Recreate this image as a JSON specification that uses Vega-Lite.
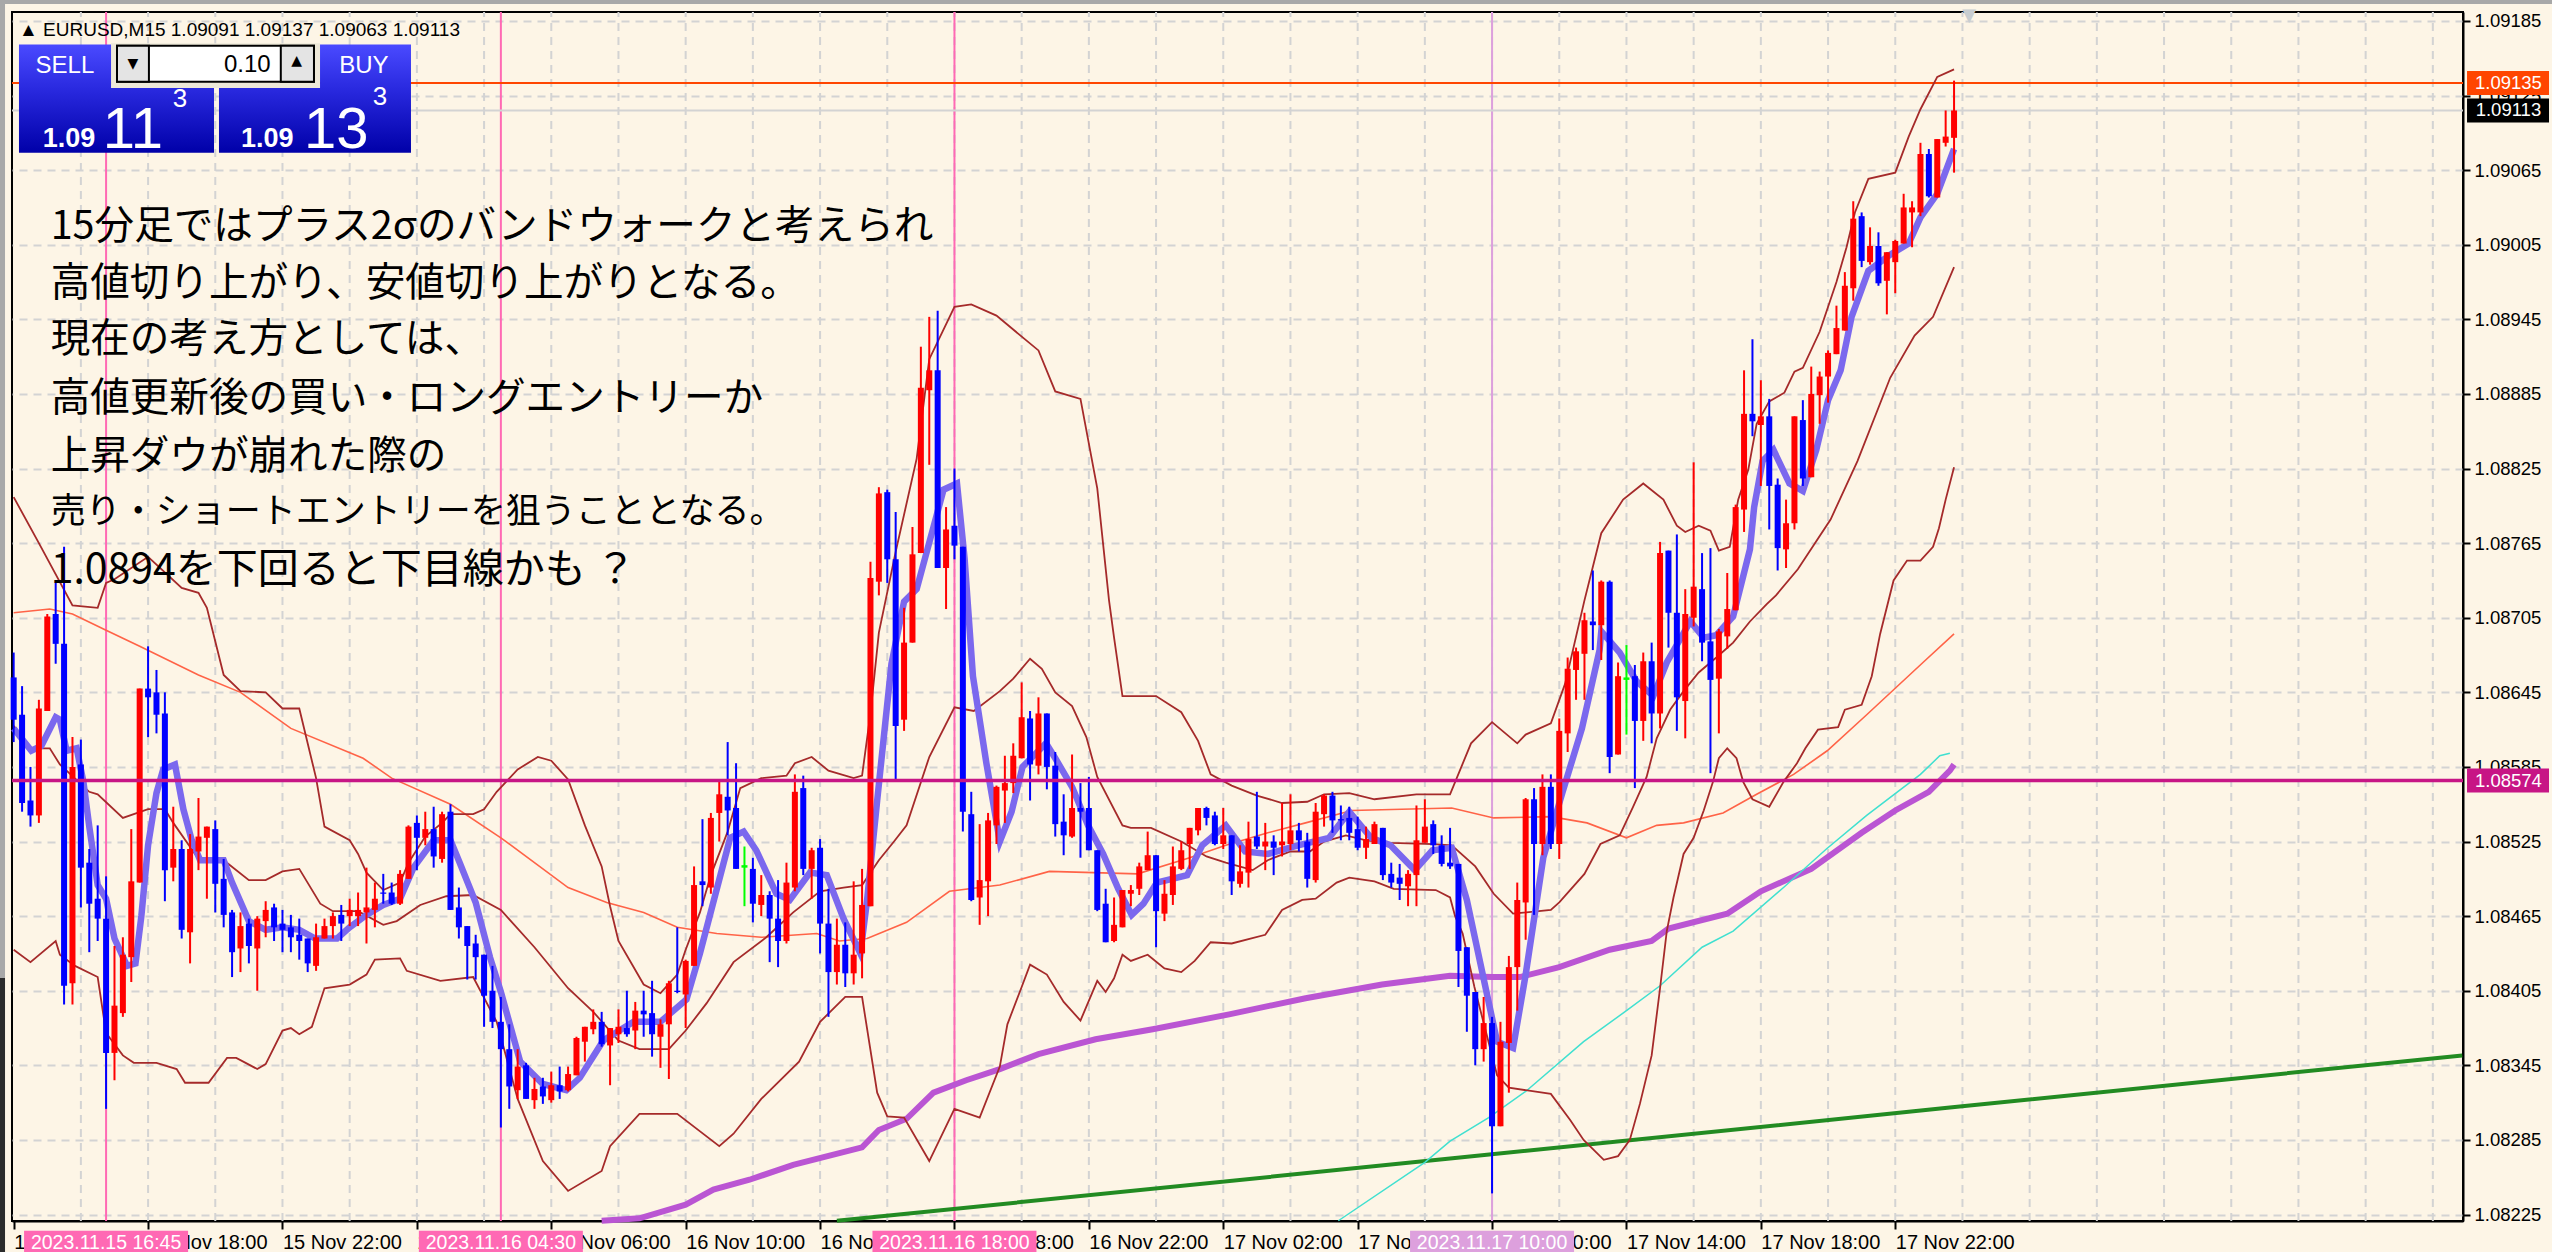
{"$schema":"https://vega.github.io/schema/vega-lite/v6.json","width":2451,"height":1209,"autosize":"none","padding":{"left":12,"top":12,"right":89,"bottom":31},"background":"#FDF5E6","view":{"fill":"#FDF5E6","stroke":"#000000","strokeWidth":2},"resolve":{"axis":{"x":"independent","y":"independent"}},
"datasets":{
"gridx":[{"i":8},{"i":16},{"i":24},{"i":32},{"i":40},{"i":48},{"i":56},{"i":64},{"i":72},{"i":80},{"i":88},{"i":96},{"i":104},{"i":112},{"i":120},{"i":128},{"i":136},{"i":144},{"i":152},{"i":160},{"i":168},{"i":176},{"i":184},{"i":192},{"i":200},{"i":208},{"i":216},{"i":224},{"i":232},{"i":240},{"i":248},{"i":256},{"i":264},{"i":272},{"i":280},{"i":288}],
"events":[{"i":11,"t":"2023.11.15 16:45"},{"i":58,"t":"2023.11.16 04:30"},{"i":112,"t":"2023.11.16 18:00"},{"i":176,"t":"2023.11.17 10:00"}],
"tags":[{"p":1.09135,"t":"1.09135"},{"p":1.09113,"t":"1.09113"},{"p":1.08574,"t":"1.08574"}],
"notes":[{"i":4.4,"p":1.0901,"t":"15分足ではプラス2σのバンドウォークと考えられ"},{"i":4.4,"p":1.08964,"t":"高値切り上がり、安値切り上がりとなる。"},{"i":4.4,"p":1.08919,"t":"現在の考え方としては、"},{"i":4.4,"p":1.08871,"t":"高値更新後の買い・ロングエントリーか"},{"i":4.4,"p":1.08825,"t":"上昇ダウが崩れた際の"}],
"noteNarrow":[{"i":4.4,"p":1.08781,"t":"売り・ショートエントリーを狙うこととなる。"}],
"noteWide":[{"i":4.4,"p":1.08733,"t":"1.0894を下回ると下目線かも ？"}],
"green":[{"i":98,"p":1.0822},{"i":171,"p":1.0827},{"i":230.5,"p":1.08311},{"i":291.5,"p":1.08353}],
"purple":[{"i":70,"p":1.0822},{"i":74.5,"p":1.08222},{"i":80,"p":1.08233},{"i":83.3,"p":1.08245},{"i":87.6,"p":1.08253},{"i":92.8,"p":1.08265},{"i":101,"p":1.08279},{"i":103,"p":1.08293},{"i":106.3,"p":1.08302},{"i":109.5,"p":1.08323},{"i":113.4,"p":1.08333},{"i":117.4,"p":1.08342},{"i":122,"p":1.08354},{"i":128.8,"p":1.08366},{"i":135.6,"p":1.08374},{"i":144.7,"p":1.08386},{"i":153.8,"p":1.08399},{"i":162.9,"p":1.0841},{"i":171,"p":1.08417},{"i":176,"p":1.08416},{"i":179.3,"p":1.08416},{"i":184,"p":1.08424},{"i":190,"p":1.08438},{"i":195,"p":1.08445},{"i":197,"p":1.08455},{"i":204,"p":1.08467},{"i":208,"p":1.08485},{"i":214,"p":1.08503},{"i":220,"p":1.08532},{"i":224,"p":1.0855},{"i":228,"p":1.08565},{"i":230.5,"p":1.08582},{"i":231,"p":1.08587}],
"cyan":[{"i":157.7,"p":1.0822},{"i":168,"p":1.08267},{"i":171,"p":1.08284},{"i":175.6,"p":1.08303},{"i":180,"p":1.08324},{"i":186.9,"p":1.08364},{"i":192,"p":1.08389},{"i":196,"p":1.08409},{"i":201,"p":1.0844},{"i":204.7,"p":1.08453},{"i":210.7,"p":1.08488},{"i":215.8,"p":1.08519},{"i":220.6,"p":1.08546},{"i":227,"p":1.08579},{"i":229.3,"p":1.08594},{"i":230.5,"p":1.08596}],
"tomato":[{"i":0,"p":1.08709},{"i":4.3,"p":1.08712},{"i":7,"p":1.08708},{"i":11,"p":1.08695},{"i":15,"p":1.08682},{"i":22,"p":1.08659},{"i":27,"p":1.08645},{"i":33,"p":1.08616},{"i":41.6,"p":1.08592},{"i":45,"p":1.08576},{"i":52,"p":1.08555},{"i":58,"p":1.08528},{"i":62.6,"p":1.08505},{"i":66,"p":1.08488},{"i":70.6,"p":1.08476},{"i":75,"p":1.08468},{"i":79,"p":1.08456},{"i":83.7,"p":1.08451},{"i":89,"p":1.08448},{"i":95.6,"p":1.08451},{"i":98.3,"p":1.08445},{"i":101.6,"p":1.08447},{"i":106.3,"p":1.0846},{"i":111.4,"p":1.08485},{"i":117.4,"p":1.0849},{"i":123.3,"p":1.08501},{"i":133.8,"p":1.08499},{"i":140,"p":1.08512},{"i":144.3,"p":1.08522},{"i":149.3,"p":1.08532},{"i":153.8,"p":1.0854},{"i":159.3,"p":1.0855},{"i":171.2,"p":1.08552},{"i":176.2,"p":1.08544},{"i":183,"p":1.08545},{"i":187.3,"p":1.0854},{"i":192,"p":1.08528},{"i":195.6,"p":1.08538},{"i":198.8,"p":1.0854},{"i":203.5,"p":1.08548},{"i":207.5,"p":1.08563},{"i":211.9,"p":1.08579},{"i":215.9,"p":1.08598},{"i":220.6,"p":1.08627},{"i":227.3,"p":1.08669},{"i":231,"p":1.08692}],
"bbU":[{"i":0,"p":1.08802},{"i":3,"p":1.08765},{"i":7,"p":1.08715},{"i":10,"p":1.08713},{"i":11,"p":1.08733},{"i":12,"p":1.08736},{"i":16,"p":1.08754},{"i":20,"p":1.08729},{"i":22,"p":1.08725},{"i":23,"p":1.08713},{"i":25,"p":1.08659},{"i":27,"p":1.08646},{"i":30,"p":1.08645},{"i":32,"p":1.08632},{"i":34,"p":1.08632},{"i":36,"p":1.08576},{"i":37,"p":1.08537},{"i":40,"p":1.08526},{"i":41,"p":1.08515},{"i":42,"p":1.085},{"i":44,"p":1.08486},{"i":46,"p":1.08492},{"i":47,"p":1.08508},{"i":49,"p":1.08529},{"i":51,"p":1.0854},{"i":52,"p":1.08547},{"i":54.7,"p":1.08547},{"i":56,"p":1.08551},{"i":57.5,"p":1.08565},{"i":60,"p":1.08583},{"i":62.4,"p":1.08593},{"i":64,"p":1.0859},{"i":66,"p":1.08575},{"i":68,"p":1.08538},{"i":70,"p":1.08505},{"i":71,"p":1.08473},{"i":72,"p":1.08445},{"i":75,"p":1.0841},{"i":77,"p":1.08403},{"i":79,"p":1.08418},{"i":80,"p":1.08438},{"i":81.7,"p":1.08468},{"i":83,"p":1.08498},{"i":85,"p":1.08533},{"i":86.5,"p":1.08568},{"i":89,"p":1.08576},{"i":92,"p":1.08578},{"i":93,"p":1.08588},{"i":95,"p":1.08593},{"i":97,"p":1.08582},{"i":100,"p":1.08576},{"i":101,"p":1.08578},{"i":102,"p":1.08628},{"i":103,"p":1.08693},{"i":105,"p":1.08758},{"i":107.5,"p":1.08833},{"i":109,"p":1.08913},{"i":112,"p":1.08955},{"i":114,"p":1.08957},{"i":117,"p":1.08948},{"i":122,"p":1.0892},{"i":124,"p":1.08887},{"i":127,"p":1.08881},{"i":129,"p":1.08809},{"i":130.4,"p":1.08719},{"i":131,"p":1.08689},{"i":132,"p":1.08642},{"i":136,"p":1.08642},{"i":139,"p":1.08629},{"i":141,"p":1.08606},{"i":142.5,"p":1.08579},{"i":145,"p":1.0857},{"i":148,"p":1.08562},{"i":151,"p":1.08556},{"i":154,"p":1.08557},{"i":156,"p":1.08563},{"i":159,"p":1.08564},{"i":162,"p":1.08559},{"i":167,"p":1.08563},{"i":171,"p":1.08563},{"i":173.5,"p":1.08604},{"i":176,"p":1.08621},{"i":179,"p":1.08604},{"i":180,"p":1.08611},{"i":183,"p":1.0862},{"i":184.7,"p":1.08652},{"i":187,"p":1.08719},{"i":189,"p":1.08773},{"i":191.6,"p":1.088},{"i":194,"p":1.08813},{"i":196.4,"p":1.088},{"i":198,"p":1.08779},{"i":199,"p":1.08774},{"i":200.6,"p":1.08779},{"i":202,"p":1.08775},{"i":203,"p":1.08759},{"i":204.3,"p":1.08762},{"i":205.3,"p":1.088},{"i":206.5,"p":1.08824},{"i":207.5,"p":1.08861},{"i":209,"p":1.08879},{"i":210.8,"p":1.08886},{"i":212,"p":1.08903},{"i":213,"p":1.08906},{"i":215,"p":1.08935},{"i":217,"p":1.08975},{"i":218.2,"p":1.09003},{"i":219.2,"p":1.09031},{"i":220.8,"p":1.09058},{"i":224,"p":1.09063},{"i":225.6,"p":1.09092},{"i":227,"p":1.09114},{"i":229,"p":1.0914},{"i":231,"p":1.09146}],
"bbM":[{"i":0,"p":1.08618},{"i":2,"p":1.086},{"i":4.3,"p":1.086},{"i":5.5,"p":1.08587},{"i":9,"p":1.08565},{"i":10,"p":1.08563},{"i":13,"p":1.08544},{"i":16,"p":1.08551},{"i":18,"p":1.08551},{"i":19,"p":1.0854},{"i":22,"p":1.08511},{"i":25,"p":1.0851},{"i":28,"p":1.08494},{"i":30,"p":1.08494},{"i":32,"p":1.08501},{"i":34,"p":1.08503},{"i":36.5,"p":1.08475},{"i":38,"p":1.08469},{"i":41,"p":1.08469},{"i":44,"p":1.08458},{"i":45.6,"p":1.08461},{"i":48.4,"p":1.08474},{"i":51.5,"p":1.08481},{"i":54.7,"p":1.08482},{"i":58,"p":1.0847},{"i":62,"p":1.0844},{"i":66,"p":1.08407},{"i":69,"p":1.08388},{"i":72,"p":1.08365},{"i":74.5,"p":1.08358},{"i":78,"p":1.08358},{"i":80,"p":1.08373},{"i":82.5,"p":1.08395},{"i":85.7,"p":1.08428},{"i":89.6,"p":1.08448},{"i":92.8,"p":1.08468},{"i":96,"p":1.08485},{"i":98.8,"p":1.08488},{"i":101,"p":1.0849},{"i":103,"p":1.0851},{"i":104.8,"p":1.08525},{"i":106.3,"p":1.08538},{"i":109,"p":1.08593},{"i":112,"p":1.08633},{"i":114.3,"p":1.0863},{"i":117.4,"p":1.08646},{"i":119,"p":1.08656},{"i":121,"p":1.08672},{"i":122.4,"p":1.08664},{"i":124,"p":1.08645},{"i":126,"p":1.08634},{"i":127.7,"p":1.08609},{"i":129,"p":1.08577},{"i":132,"p":1.08538},{"i":133,"p":1.08536},{"i":135.4,"p":1.08536},{"i":139,"p":1.08525},{"i":142,"p":1.08513},{"i":144.3,"p":1.08508},{"i":147.5,"p":1.08502},{"i":149.3,"p":1.0851},{"i":152,"p":1.08517},{"i":154.3,"p":1.08517},{"i":156,"p":1.08525},{"i":158.6,"p":1.0853},{"i":161,"p":1.08526},{"i":164,"p":1.08524},{"i":169,"p":1.08523},{"i":171.2,"p":1.08522},{"i":174,"p":1.08505},{"i":176.2,"p":1.08483},{"i":178.5,"p":1.08467},{"i":183,"p":1.0847},{"i":184,"p":1.08476},{"i":187,"p":1.08499},{"i":188.9,"p":1.08523},{"i":191.2,"p":1.0853},{"i":192.8,"p":1.08553},{"i":194.4,"p":1.08577},{"i":195.6,"p":1.08608},{"i":197.2,"p":1.08631},{"i":198.8,"p":1.08646},{"i":200.6,"p":1.08661},{"i":202.7,"p":1.08673},{"i":204.7,"p":1.08685},{"i":206.7,"p":1.08702},{"i":208.7,"p":1.08716},{"i":209.8,"p":1.08723},{"i":212.4,"p":1.08744},{"i":216.3,"p":1.08784},{"i":219.5,"p":1.08831},{"i":223.4,"p":1.08898},{"i":226.3,"p":1.08932},{"i":228.5,"p":1.08947},{"i":231,"p":1.08987}],
"bbL":[{"i":0,"p":1.08438},{"i":2,"p":1.08428},{"i":5,"p":1.08445},{"i":5.5,"p":1.08434},{"i":7.3,"p":1.08425},{"i":10,"p":1.08416},{"i":11,"p":1.08371},{"i":13,"p":1.08353},{"i":14.3,"p":1.08347},{"i":17,"p":1.08347},{"i":19.4,"p":1.08342},{"i":20.4,"p":1.08331},{"i":23.2,"p":1.08331},{"i":25.4,"p":1.08351},{"i":26.5,"p":1.08351},{"i":29,"p":1.08342},{"i":30,"p":1.08346},{"i":32,"p":1.08373},{"i":33,"p":1.08375},{"i":34,"p":1.0837},{"i":35.5,"p":1.08376},{"i":37,"p":1.08407},{"i":40,"p":1.0841},{"i":42,"p":1.08418},{"i":43,"p":1.0843},{"i":46,"p":1.08431},{"i":46.8,"p":1.08421},{"i":50.8,"p":1.08413},{"i":54.7,"p":1.08416},{"i":57.5,"p":1.0838},{"i":60,"p":1.08318},{"i":63,"p":1.08268},{"i":66,"p":1.08244},{"i":70,"p":1.0826},{"i":71,"p":1.0828},{"i":74.5,"p":1.08306},{"i":79,"p":1.08306},{"i":84,"p":1.0828},{"i":85.7,"p":1.0829},{"i":89,"p":1.08318},{"i":93.5,"p":1.08348},{"i":96,"p":1.0838},{"i":99,"p":1.084},{"i":101,"p":1.084},{"i":102.8,"p":1.08323},{"i":104,"p":1.08304},{"i":106,"p":1.08303},{"i":109,"p":1.08268},{"i":112,"p":1.0831},{"i":115,"p":1.08303},{"i":117.4,"p":1.08344},{"i":118.3,"p":1.08378},{"i":120,"p":1.08408},{"i":121,"p":1.08426},{"i":123,"p":1.08418},{"i":125,"p":1.08396},{"i":127,"p":1.08381},{"i":129,"p":1.08413},{"i":130,"p":1.08404},{"i":131,"p":1.08415},{"i":132,"p":1.08434},{"i":133,"p":1.08429},{"i":135,"p":1.08434},{"i":137,"p":1.08423},{"i":139,"p":1.0842},{"i":140.6,"p":1.08429},{"i":142.5,"p":1.08444},{"i":145,"p":1.08443},{"i":149,"p":1.0845},{"i":151,"p":1.0847},{"i":153.4,"p":1.08478},{"i":155,"p":1.08479},{"i":157.5,"p":1.08492},{"i":159,"p":1.08496},{"i":162,"p":1.08493},{"i":164.3,"p":1.08487},{"i":169.3,"p":1.08486},{"i":171,"p":1.0848},{"i":171.6,"p":1.08465},{"i":172.5,"p":1.08451},{"i":173.9,"p":1.08408},{"i":176.6,"p":1.08337},{"i":178,"p":1.08327},{"i":183,"p":1.08322},{"i":185.3,"p":1.08301},{"i":186.9,"p":1.08285},{"i":189.3,"p":1.08269},{"i":191,"p":1.08272},{"i":192.4,"p":1.08285},{"i":193.6,"p":1.08314},{"i":195,"p":1.08353},{"i":196,"p":1.08407},{"i":196.8,"p":1.08453},{"i":197.6,"p":1.0848},{"i":198.8,"p":1.08515},{"i":200,"p":1.08528},{"i":201.2,"p":1.0855},{"i":202.3,"p":1.08573},{"i":203,"p":1.08592},{"i":204,"p":1.086},{"i":205.1,"p":1.08592},{"i":205.9,"p":1.08573},{"i":207,"p":1.08559},{"i":209,"p":1.08553},{"i":210.7,"p":1.08573},{"i":212.3,"p":1.08588},{"i":213.3,"p":1.086},{"i":214.8,"p":1.08615},{"i":217.2,"p":1.08617},{"i":218,"p":1.08631},{"i":220,"p":1.08635},{"i":221.2,"p":1.08658},{"i":222.2,"p":1.08692},{"i":223.8,"p":1.08735},{"i":225.4,"p":1.08751},{"i":227,"p":1.08751},{"i":228.5,"p":1.08762},{"i":229.2,"p":1.08777},{"i":230,"p":1.088},{"i":231,"p":1.08826}],
"ma":[{"i":0,"p":1.08616},{"i":2.1,"p":1.08598},{"i":3.3,"p":1.08602},{"i":5,"p":1.08625},{"i":5.5,"p":1.08623},{"i":6.3,"p":1.08598},{"i":7.5,"p":1.086},{"i":8.3,"p":1.08573},{"i":9,"p":1.08537},{"i":10,"p":1.0849},{"i":11,"p":1.08479},{"i":12,"p":1.08447},{"i":13.5,"p":1.08425},{"i":14.5,"p":1.08427},{"i":15.2,"p":1.08465},{"i":16,"p":1.08522},{"i":17,"p":1.08564},{"i":17.8,"p":1.08583},{"i":19.2,"p":1.08587},{"i":20.2,"p":1.08551},{"i":21.2,"p":1.08526},{"i":22.2,"p":1.0851},{"i":25,"p":1.0851},{"i":26,"p":1.08492},{"i":28,"p":1.08461},{"i":30,"p":1.08454},{"i":32,"p":1.08456},{"i":34,"p":1.08454},{"i":35.9,"p":1.08447},{"i":38.5,"p":1.08447},{"i":40,"p":1.08456},{"i":42,"p":1.08466},{"i":44,"p":1.08474},{"i":46,"p":1.08479},{"i":47.6,"p":1.08504},{"i":50,"p":1.08526},{"i":52,"p":1.08526},{"i":53.1,"p":1.08508},{"i":55,"p":1.08476},{"i":56.7,"p":1.08432},{"i":58,"p":1.08404},{"i":60.3,"p":1.08348},{"i":63,"p":1.0833},{"i":65.8,"p":1.08325},{"i":67.4,"p":1.08335},{"i":70.2,"p":1.08365},{"i":73.8,"p":1.0838},{"i":77,"p":1.0838},{"i":80.1,"p":1.08398},{"i":81.7,"p":1.08435},{"i":85.3,"p":1.08528},{"i":86.9,"p":1.08533},{"i":88.4,"p":1.08518},{"i":90.8,"p":1.08483},{"i":92.4,"p":1.08478},{"i":94.8,"p":1.085},{"i":96.8,"p":1.08498},{"i":98.8,"p":1.08463},{"i":100.8,"p":1.08435},{"i":101.6,"p":1.08478},{"i":102.8,"p":1.08558},{"i":104.5,"p":1.08668},{"i":106,"p":1.08718},{"i":107.5,"p":1.08728},{"i":109.5,"p":1.08778},{"i":110.7,"p":1.08808},{"i":112.3,"p":1.08813},{"i":113.2,"p":1.08753},{"i":114.2,"p":1.08658},{"i":115.8,"p":1.08588},{"i":117.4,"p":1.08525},{"i":118.8,"p":1.08549},{"i":120.1,"p":1.08585},{"i":122.9,"p":1.08604},{"i":124,"p":1.08592},{"i":126,"p":1.08569},{"i":127.9,"p":1.08538},{"i":129.7,"p":1.08515},{"i":131.5,"p":1.08487},{"i":133.1,"p":1.08466},{"i":134.5,"p":1.08475},{"i":136.1,"p":1.08492},{"i":139.7,"p":1.08498},{"i":141.5,"p":1.08522},{"i":144.3,"p":1.08538},{"i":146.6,"p":1.08517},{"i":149.3,"p":1.08515},{"i":152.9,"p":1.08522},{"i":156.6,"p":1.08528},{"i":159,"p":1.08549},{"i":161.6,"p":1.08528},{"i":163.9,"p":1.08522},{"i":166.8,"p":1.08502},{"i":168.9,"p":1.08518},{"i":171.2,"p":1.0852},{"i":173,"p":1.08478},{"i":174.8,"p":1.08421},{"i":176.6,"p":1.08364},{"i":178.5,"p":1.08359},{"i":180,"p":1.08418},{"i":182.1,"p":1.08512},{"i":184.4,"p":1.08565},{"i":186.7,"p":1.08616},{"i":188.8,"p":1.08679},{"i":189,"p":1.08694},{"i":191.2,"p":1.08677},{"i":193.2,"p":1.08654},{"i":195.2,"p":1.08642},{"i":196.8,"p":1.08669},{"i":199.6,"p":1.08702},{"i":201.2,"p":1.08689},{"i":202.7,"p":1.08691},{"i":204.7,"p":1.08706},{"i":206.7,"p":1.0876},{"i":207.2,"p":1.08794},{"i":208.2,"p":1.08831},{"i":209.5,"p":1.0884},{"i":211.4,"p":1.08813},{"i":213,"p":1.08807},{"i":214.6,"p":1.0884},{"i":216,"p":1.0888},{"i":217.5,"p":1.08904},{"i":218.8,"p":1.08947},{"i":220.8,"p":1.08984},{"i":223.4,"p":1.08997},{"i":225.6,"p":1.09006},{"i":227,"p":1.09027},{"i":229,"p":1.09046},{"i":231,"p":1.09082}],
"candles":[
{"i":0,"o":1.08657,"h":1.08677,"l":1.08605,"c":1.08623},{"i":1,"o":1.08627,"h":1.0865,"l":1.08549,"c":1.08556},{"i":2,"o":1.08558,"h":1.08585,"l":1.08537,"c":1.08546},{"i":3,"o":1.08546,"h":1.08639,"l":1.0854,"c":1.08632},{"i":4,"o":1.0863,"h":1.08708,"l":1.0863,"c":1.08706},{"i":5,"o":1.08708,"h":1.08733,"l":1.08668,"c":1.08684},{"i":6,"o":1.08684,"h":1.08762,"l":1.08394,"c":1.08409},{"i":7,"o":1.08411,"h":1.08609,"l":1.08394,"c":1.08585},{"i":8,"o":1.08587,"h":1.08607,"l":1.08472,"c":1.08504},{"i":9,"o":1.08508,"h":1.08519,"l":1.08436,"c":1.08475},{"i":10,"o":1.08479,"h":1.08538,"l":1.08445,"c":1.08463},{"i":11,"o":1.08463,"h":1.08497,"l":1.0831,"c":1.08355},{"i":12,"o":1.08355,"h":1.08441,"l":1.08333,"c":1.08393},{"i":13,"o":1.08387,"h":1.08448,"l":1.08384,"c":1.08434},{"i":14,"o":1.08432,"h":1.08535,"l":1.08412,"c":1.08493},{"i":15,"o":1.08492,"h":1.08648,"l":1.08492,"c":1.08648},{"i":16,"o":1.08648,"h":1.08682,"l":1.08609,"c":1.08641},{"i":17,"o":1.08645,"h":1.08663,"l":1.08612,"c":1.08627},{"i":18,"o":1.08628,"h":1.08645,"l":1.08477,"c":1.08502},{"i":19,"o":1.08504,"h":1.08553,"l":1.08493,"c":1.08519},{"i":20,"o":1.08519,"h":1.08526,"l":1.08447,"c":1.08454},{"i":21,"o":1.08452,"h":1.08531,"l":1.08427,"c":1.08519},{"i":22,"o":1.08517,"h":1.0856,"l":1.08502,"c":1.08529},{"i":23,"o":1.08528,"h":1.08537,"l":1.08479,"c":1.08537},{"i":24,"o":1.08535,"h":1.08542,"l":1.08468,"c":1.08491},{"i":25,"o":1.08495,"h":1.08511,"l":1.08456,"c":1.08466},{"i":26,"o":1.08468,"h":1.0847,"l":1.08416,"c":1.08436},{"i":27,"o":1.08439,"h":1.08468,"l":1.0842,"c":1.08457},{"i":28,"o":1.08459,"h":1.08463,"l":1.08427,"c":1.08441},{"i":29,"o":1.08439,"h":1.08465,"l":1.08405,"c":1.08463},{"i":30,"o":1.08461,"h":1.08477,"l":1.08448,"c":1.0847},{"i":31,"o":1.08472,"h":1.08475,"l":1.08445,"c":1.08456},{"i":32,"o":1.08459,"h":1.0847,"l":1.08436,"c":1.08454},{"i":33,"o":1.08456,"h":1.08466,"l":1.08436,"c":1.08448},{"i":34,"o":1.0845,"h":1.08463,"l":1.0843,"c":1.08445},{"i":35,"o":1.08447,"h":1.08447,"l":1.0842,"c":1.08427},{"i":36,"o":1.08425,"h":1.08459,"l":1.08421,"c":1.08448},{"i":37,"o":1.08447,"h":1.08463,"l":1.08447,"c":1.08457},{"i":38,"o":1.08457,"h":1.08468,"l":1.08447,"c":1.08465},{"i":39,"o":1.08466,"h":1.08474,"l":1.08445,"c":1.08459},{"i":40,"o":1.08465,"h":1.08479,"l":1.08457,"c":1.0847},{"i":41,"o":1.08465,"h":1.08484,"l":1.08457,"c":1.0847},{"i":42,"o":1.08468,"h":1.08504,"l":1.08443,"c":1.08472},{"i":43,"o":1.0847,"h":1.08492,"l":1.08456,"c":1.08479},{"i":44,"o":1.08484,"h":1.08499,"l":1.08475,"c":1.08483},{"i":45,"o":1.08484,"h":1.08492,"l":1.08474,"c":1.08475},{"i":46,"o":1.08475,"h":1.08502,"l":1.08474,"c":1.08499},{"i":47,"o":1.08495,"h":1.08538,"l":1.08495,"c":1.08537},{"i":48,"o":1.0854,"h":1.08546,"l":1.08502,"c":1.08528},{"i":49,"o":1.08528,"h":1.08549,"l":1.08522,"c":1.08535},{"i":50,"o":1.08535,"h":1.08553,"l":1.08504,"c":1.08513},{"i":51,"o":1.08511,"h":1.08549,"l":1.08508,"c":1.08547},{"i":52,"o":1.08549,"h":1.08555,"l":1.0847,"c":1.0847},{"i":53,"o":1.08472,"h":1.08488,"l":1.08447,"c":1.08456},{"i":54,"o":1.08457,"h":1.08457,"l":1.08414,"c":1.08441},{"i":55,"o":1.08443,"h":1.0845,"l":1.08414,"c":1.08432},{"i":56,"o":1.08434,"h":1.08434,"l":1.08376,"c":1.08401},{"i":57,"o":1.08405,"h":1.08425,"l":1.08375,"c":1.0838},{"i":58,"o":1.0838,"h":1.084,"l":1.08295,"c":1.08358},{"i":59,"o":1.08358,"h":1.08378,"l":1.0831,"c":1.08328},{"i":60,"o":1.08325,"h":1.08358,"l":1.08318,"c":1.08344},{"i":61,"o":1.08345,"h":1.08347,"l":1.08318,"c":1.08318},{"i":62,"o":1.08317,"h":1.08335,"l":1.0831,"c":1.08326},{"i":63,"o":1.08328,"h":1.08335,"l":1.08314,"c":1.0832},{"i":64,"o":1.08317,"h":1.0834,"l":1.08315,"c":1.08329},{"i":65,"o":1.08329,"h":1.08344,"l":1.08318,"c":1.08324},{"i":66,"o":1.08325,"h":1.08344,"l":1.08324,"c":1.08338},{"i":67,"o":1.08337,"h":1.08368,"l":1.08337,"c":1.08367},{"i":68,"o":1.08364,"h":1.08376,"l":1.08348,"c":1.08376},{"i":69,"o":1.08374,"h":1.0839,"l":1.0837,"c":1.0838},{"i":70,"o":1.0838,"h":1.08388,"l":1.0836,"c":1.08362},{"i":71,"o":1.08361,"h":1.08375,"l":1.08329,"c":1.08375},{"i":72,"o":1.0837,"h":1.0839,"l":1.08363,"c":1.08376},{"i":73,"o":1.08375,"h":1.08405,"l":1.08368,"c":1.0837},{"i":74,"o":1.08373,"h":1.08396,"l":1.08358,"c":1.08389},{"i":75,"o":1.08389,"h":1.08405,"l":1.08368,"c":1.08386},{"i":76,"o":1.08387,"h":1.08413,"l":1.08352,"c":1.0837},{"i":77,"o":1.08368,"h":1.08382,"l":1.08343,"c":1.08378},{"i":78,"o":1.08378,"h":1.08413,"l":1.08334,"c":1.08411},{"i":79,"o":1.08405,"h":1.08456,"l":1.08403,"c":1.08404},{"i":80,"o":1.08402,"h":1.0843,"l":1.08375,"c":1.08429},{"i":81,"o":1.08425,"h":1.08505,"l":1.08425,"c":1.0849},{"i":82,"o":1.08493,"h":1.08543,"l":1.08473,"c":1.0849},{"i":83,"o":1.08488,"h":1.08548,"l":1.08483,"c":1.08544},{"i":84,"o":1.08548,"h":1.08574,"l":1.08525,"c":1.08563},{"i":85,"o":1.08561,"h":1.08605,"l":1.0853,"c":1.0855},{"i":86,"o":1.08552,"h":1.08588,"l":1.08503,"c":1.08503},{"i":87,"t":"f","o":1.08504,"h":1.08521,"l":1.08473,"c":1.08506},{"i":88,"o":1.08503,"h":1.08512,"l":1.0846,"c":1.08475},{"i":89,"o":1.08474,"h":1.08498,"l":1.08465,"c":1.08482},{"i":90,"o":1.08482,"h":1.08485,"l":1.08428,"c":1.08463},{"i":91,"o":1.08463,"h":1.08494,"l":1.08424,"c":1.08445},{"i":92,"o":1.08445,"h":1.08508,"l":1.08443,"c":1.08492},{"i":93,"o":1.08488,"h":1.08579,"l":1.08485,"c":1.08565},{"i":94,"o":1.08568,"h":1.08578,"l":1.08498,"c":1.08503},{"i":95,"o":1.08503,"h":1.0852,"l":1.08479,"c":1.08518},{"i":96,"o":1.0852,"h":1.08527,"l":1.08435,"c":1.08459},{"i":97,"o":1.08459,"h":1.08487,"l":1.08384,"c":1.0842},{"i":98,"o":1.0842,"h":1.08463,"l":1.0841,"c":1.08442},{"i":99,"o":1.08442,"h":1.0846,"l":1.08408,"c":1.08419},{"i":100,"o":1.08419,"h":1.08493,"l":1.0841,"c":1.08434},{"i":101,"o":1.08435,"h":1.08503,"l":1.08415,"c":1.08474},{"i":102,"o":1.08473,"h":1.0875,"l":1.08473,"c":1.08737},{"i":103,"o":1.08734,"h":1.0881,"l":1.08723,"c":1.08805},{"i":104,"o":1.08806,"h":1.08808,"l":1.08733,"c":1.08752},{"i":105,"o":1.08752,"h":1.0879,"l":1.08575,"c":1.08618},{"i":106,"o":1.08623,"h":1.08713,"l":1.08614,"c":1.08685},{"i":107,"o":1.08685,"h":1.08778,"l":1.08685,"c":1.08756},{"i":108,"o":1.08757,"h":1.08923,"l":1.08757,"c":1.0889},{"i":109,"o":1.08888,"h":1.08947,"l":1.08828,"c":1.08904},{"i":110,"o":1.08904,"h":1.08952,"l":1.08745,"c":1.08745},{"i":111,"o":1.08745,"h":1.08794,"l":1.08712,"c":1.08776},{"i":112,"o":1.08779,"h":1.08825,"l":1.08752,"c":1.08763},{"i":113,"o":1.08762,"h":1.08762,"l":1.08533,"c":1.08549},{"i":114,"o":1.08547,"h":1.08565,"l":1.08477,"c":1.08478},{"i":115,"o":1.0848,"h":1.08539,"l":1.08458,"c":1.08494},{"i":116,"o":1.08493,"h":1.08548,"l":1.08465,"c":1.08542},{"i":117,"o":1.08538,"h":1.0857,"l":1.08523,"c":1.08569},
{"i":118,"o":1.08566,"h":1.08594,"l":1.0854,"c":1.08572},{"i":119,"o":1.08572,"h":1.08604,"l":1.08564,"c":1.08594},{"i":120,"o":1.08592,"h":1.08653,"l":1.08592,"c":1.08625},{"i":121,"o":1.08624,"h":1.0863,"l":1.08558,"c":1.08587},{"i":122,"o":1.08586,"h":1.08641,"l":1.08579,"c":1.08628},{"i":123,"o":1.08628,"h":1.08628,"l":1.08567,"c":1.08585},{"i":124,"o":1.08586,"h":1.08597,"l":1.08529,"c":1.08539},{"i":125,"o":1.08541,"h":1.08563,"l":1.08514,"c":1.0853},{"i":126,"o":1.08529,"h":1.08595,"l":1.08528,"c":1.08552},{"i":127,"o":1.08552,"h":1.08572,"l":1.08512,"c":1.08549},{"i":128,"o":1.08552,"h":1.08577,"l":1.08518,"c":1.08518},{"i":129,"o":1.08518,"h":1.08518,"l":1.08469,"c":1.0847},{"i":130,"o":1.08475,"h":1.08487,"l":1.08444,"c":1.08444},{"i":131,"o":1.08445,"h":1.0848,"l":1.08444,"c":1.08458},{"i":132,"o":1.08456,"h":1.08486,"l":1.08456,"c":1.08486},{"i":133,"o":1.08483,"h":1.0849,"l":1.08473,"c":1.08486},{"i":134,"o":1.08487,"h":1.08508,"l":1.08482,"c":1.08505},{"i":135,"o":1.08502,"h":1.08533,"l":1.08502,"c":1.08514},{"i":136,"o":1.08514,"h":1.08514,"l":1.0844,"c":1.08469},{"i":137,"o":1.08467,"h":1.08494,"l":1.08461,"c":1.08483},{"i":138,"o":1.08482,"h":1.08521,"l":1.08474,"c":1.08505},{"i":139,"o":1.08503,"h":1.08525,"l":1.08502,"c":1.08518},{"i":140,"o":1.08523,"h":1.08536,"l":1.08503,"c":1.08536},{"i":141,"o":1.08534,"h":1.08552,"l":1.0853,"c":1.08552},{"i":142,"o":1.08552,"h":1.08553,"l":1.08538,"c":1.08544},{"i":143,"o":1.08546,"h":1.08549,"l":1.08522,"c":1.08523},{"i":144,"o":1.08523,"h":1.08552,"l":1.08519,"c":1.0853},{"i":145,"o":1.0853,"h":1.0853,"l":1.08482,"c":1.08493},{"i":146,"o":1.08491,"h":1.08522,"l":1.08488,"c":1.08501},{"i":147,"o":1.085,"h":1.08541,"l":1.08488,"c":1.08527},{"i":148,"o":1.08529,"h":1.08565,"l":1.08519,"c":1.08521},{"i":149,"o":1.08521,"h":1.0854,"l":1.08502,"c":1.08525},{"i":150,"o":1.08525,"h":1.0853,"l":1.08498,"c":1.0852},{"i":151,"o":1.08522,"h":1.08556,"l":1.08513,"c":1.08525},{"i":152,"o":1.08523,"h":1.08563,"l":1.08518,"c":1.08534},{"i":153,"o":1.08534,"h":1.0854,"l":1.08517,"c":1.08526},{"i":154,"o":1.08525,"h":1.08532,"l":1.08488,"c":1.08495},{"i":155,"o":1.08494,"h":1.08556,"l":1.08492,"c":1.08549},{"i":156,"o":1.08547,"h":1.08563,"l":1.08537,"c":1.08562},{"i":157,"o":1.08562,"h":1.08565,"l":1.08532,"c":1.08542},{"i":158,"o":1.08543,"h":1.08554,"l":1.08526,"c":1.08542},{"i":159,"o":1.08544,"h":1.08553,"l":1.08526,"c":1.08532},{"i":160,"o":1.08535,"h":1.08545,"l":1.08518,"c":1.0852},{"i":161,"o":1.0852,"h":1.08537,"l":1.08511,"c":1.08527},{"i":162,"o":1.08523,"h":1.08541,"l":1.08523,"c":1.08539},{"i":163,"o":1.08536,"h":1.08536,"l":1.08494,"c":1.08498},{"i":164,"o":1.08499,"h":1.08508,"l":1.08488,"c":1.08492},{"i":165,"o":1.08496,"h":1.08507,"l":1.08478,"c":1.08491},{"i":166,"o":1.08489,"h":1.08502,"l":1.08473,"c":1.08499},{"i":167,"o":1.08498,"h":1.08554,"l":1.08473,"c":1.08526},{"i":168,"o":1.08524,"h":1.08559,"l":1.08524,"c":1.08537},{"i":169,"o":1.08539,"h":1.08542,"l":1.08515,"c":1.08522},{"i":170,"o":1.08522,"h":1.0853,"l":1.08505,"c":1.08507},{"i":171,"o":1.08508,"h":1.08536,"l":1.08503,"c":1.08505},{"i":172,"o":1.08507,"h":1.08507,"l":1.08408,"c":1.08437},{"i":173,"o":1.0844,"h":1.0844,"l":1.08372,"c":1.08401},{"i":174,"o":1.08404,"h":1.08404,"l":1.08345,"c":1.08358},{"i":175,"o":1.08358,"h":1.084,"l":1.08348,"c":1.08379},{"i":176,"o":1.08379,"h":1.08384,"l":1.08242,"c":1.08296},{"i":177,"o":1.08296,"h":1.0838,"l":1.08296,"c":1.08364},{"i":178,"o":1.08363,"h":1.08433,"l":1.08323,"c":1.08424},{"i":179,"o":1.08424,"h":1.08492,"l":1.08389,"c":1.08478},{"i":180,"o":1.08476,"h":1.0856,"l":1.08446,"c":1.08559},{"i":181,"o":1.08559,"h":1.08568,"l":1.08466,"c":1.08523},{"i":182,"o":1.08523,"h":1.08579,"l":1.08514,"c":1.08569},{"i":183,"o":1.08569,"h":1.08579,"l":1.08519,"c":1.08523},{"i":184,"o":1.08523,"h":1.08624,"l":1.08511,"c":1.08614},{"i":185,"o":1.08612,"h":1.08673,"l":1.08597,"c":1.08664},{"i":186,"o":1.08663,"h":1.08681,"l":1.08639,"c":1.08678},{"i":187,"o":1.08676,"h":1.08709,"l":1.08639,"c":1.08703},{"i":188,"o":1.08702,"h":1.08743,"l":1.08679,"c":1.08699},{"i":189,"o":1.08699,"h":1.08735,"l":1.08671,"c":1.08734},{"i":190,"o":1.08734,"h":1.08735,"l":1.0858,"c":1.08593},{"i":191,"o":1.08595,"h":1.08669,"l":1.08595,"c":1.08658},{"i":192,"t":"f","o":1.08655,"h":1.08683,"l":1.08611,"c":1.08657},{"i":193,"o":1.08658,"h":1.08667,"l":1.08568,"c":1.08622},{"i":194,"o":1.08622,"h":1.08677,"l":1.08606,"c":1.0867},{"i":195,"o":1.0867,"h":1.08685,"l":1.08604,"c":1.08628},{"i":196,"o":1.08628,"h":1.08766,"l":1.08616,"c":1.08757},{"i":197,"o":1.08759,"h":1.08759,"l":1.08681,"c":1.08709},{"i":198,"o":1.08709,"h":1.08772,"l":1.08614,"c":1.08641},{"i":199,"o":1.08638,"h":1.08728,"l":1.08608,"c":1.08708},{"i":200,"o":1.08705,"h":1.0883,"l":1.08698,"c":1.0873},{"i":201,"o":1.08728,"h":1.08757,"l":1.0867,"c":1.08685},{"i":202,"o":1.08686,"h":1.08761,"l":1.0858,"c":1.08655},{"i":203,"o":1.08656,"h":1.08696,"l":1.08612,"c":1.08694},{"i":204,"o":1.0869,"h":1.08741,"l":1.0868,"c":1.08712},{"i":205,"o":1.08711,"h":1.08796,"l":1.08711,"c":1.08794},{"i":206,"o":1.08792,"h":1.08904,"l":1.08774,"c":1.08869},{"i":207,"o":1.08869,"h":1.08929,"l":1.08851,"c":1.08863},{"i":208,"o":1.0886,"h":1.08896,"l":1.08811,"c":1.08867},{"i":209,"o":1.08867,"h":1.08881,"l":1.08776,"c":1.08811},{"i":210,"o":1.08812,"h":1.08817,"l":1.08743,"c":1.08761},{"i":211,"o":1.0876,"h":1.088,"l":1.08745,"c":1.08781},{"i":212,"o":1.08781,"h":1.08867,"l":1.08776,"c":1.08867},{"i":213,"o":1.08864,"h":1.0888,"l":1.08811,"c":1.08817},{"i":214,"o":1.08818,"h":1.08907,"l":1.08818,"c":1.08885},{"i":215,"o":1.08884,"h":1.08903,"l":1.08861,"c":1.08899},{"i":216,"o":1.08899,"h":1.0892,"l":1.08878,"c":1.08918},{"i":217,"o":1.08917,"h":1.08956,"l":1.08917,"c":1.08938},{"i":218,"o":1.08936,"h":1.08983,"l":1.08936,"c":1.08972},{"i":219,"o":1.0897,"h":1.0904,"l":1.0896,"c":1.09026},{"i":220,"o":1.09028,"h":1.09031,"l":1.08987,"c":1.08992},{"i":221,"o":1.08991,"h":1.09019,"l":1.08989,"c":1.09004},{"i":222,"o":1.09004,"h":1.09015,"l":1.08972,"c":1.08974},{"i":223,"o":1.08976,"h":1.08999,"l":1.08949,"c":1.08999},{"i":224,"o":1.08991,"h":1.09009,"l":1.08966,"c":1.09008},{"i":225,"o":1.09006,"h":1.09046,"l":1.09006,"c":1.09035},{"i":226,"o":1.09031,"h":1.0904,"l":1.09003,"c":1.09035},{"i":227,"o":1.09031,"h":1.09087,"l":1.09028,"c":1.09078},{"i":228,"o":1.09078,"h":1.09082,"l":1.09043,"c":1.09044},{"i":229,"o":1.09043,"h":1.0909,"l":1.09043,"c":1.0909},{"i":230,"o":1.09087,"h":1.09113,"l":1.09084,"c":1.09092},{"i":231,"o":1.09091,"h":1.09137,"l":1.09063,"c":1.09113}],
"panelBig":[{"t":"11","i":14.2,"p":1.09083},{"t":"13","i":38.4,"p":1.09083}],
"panelSmall":[{"t":"1.09","i":6.6,"p":1.09084},{"t":"1.09","i":30.2,"p":1.09084}],
"panelSup":[{"t":"3","i":19.8,"p":1.09116},{"t":"3","i":43.6,"p":1.09117}],
"panelHead":[{"t":"SELL","i":6.1,"p":1.09143},{"t":"BUY","i":41.7,"p":1.09143}],
"panelArrow":[{"t":"▼","i":14.2,"p":1.0915},{"t":"▲","i":33.7,"p":1.09153}]
},
"layer":[
{"data":{"name":"gridx"},"mark":{"type":"rule","color":"#D3D3D3","strokeWidth":2,"strokeDash":[8,6]},"encoding":{"x":{"field":"i","type":"quantitative","scale":{"domain":[-0.2,291.59],"nice":false,"zero":false,"padding":0},"axis":{"values":[0,16,32,48,64,80,96,112,128,144,160,176,192,208,224],"grid":false,"orient":"bottom","title":null,"domainColor":"#000000","domainWidth":2,"tickColor":"#000000","tickWidth":2,"tickSize":8,"labelFont":"Liberation Sans","labelFontSize":20,"labelColor":"#000000","labelAlign":"left","labelBaseline":"top","labelPadding":3,"labelFlush":false,"labelBound":false,"labelOverlap":false,"labelExpr":"['15 Nov 14:00','15 Nov 18:00','15 Nov 22:00','16 Nov 02:00','16 Nov 06:00','16 Nov 10:00','16 Nov 14:00','16 Nov 18:00','16 Nov 22:00','17 Nov 02:00','17 Nov 06:00','17 Nov 10:00','17 Nov 14:00','17 Nov 18:00','17 Nov 22:00'][datum.value/16]"}},"y":{"datum":1.082198,"type":"quantitative","scale":{"domain":[1.082198,1.091922],"nice":false,"zero":false,"padding":0},"axis":{"values":[1.09185,1.09125,1.09065,1.09005,1.08945,1.08885,1.08825,1.08765,1.08705,1.08645,1.08585,1.08525,1.08465,1.08405,1.08345,1.08285,1.08225],"orient":"right","title":null,"grid":true,"gridColor":"#D3D3D3","gridWidth":2,"gridDash":[8,6],"domainColor":"#000000","domainWidth":2,"tickColor":"#000000","tickWidth":2,"tickSize":7,"labelFont":"Liberation Sans","labelFontSize":18.5,"labelColor":"#000000","labelPadding":4,"labelFlush":false,"labelBound":false,"labelOverlap":false,"labelExpr":"format(datum.value,'.5f')"}},"y2":{"datum":1.091922}}},
{"data":{"name":"events"},"mark":{"type":"rule","strokeWidth":2},"encoding":{"x":{"field":"i","type":"quantitative","axis":null},"y":{"datum":1.082198,"type":"quantitative","axis":null},"y2":{"datum":1.091922},"color":{"condition":{"test":"datum.i==176","value":"#DDA0DD"},"value":"#FF69B4"}}},
{"data":{"values":[{"i":-0.2,"j":291.59}]},"mark":{"type":"rule","strokeWidth":2,"color":"#D3D3D3"},"encoding":{"x":{"field":"i","type":"quantitative","axis":null},"x2":{"field":"j"},"y":{"datum":1.09113,"type":"quantitative","axis":null}}},
{"data":{"values":[{"i":-0.2,"j":291.59}]},"mark":{"type":"rule","strokeWidth":2,"color":"#FF4500"},"encoding":{"x":{"field":"i","type":"quantitative","axis":null},"x2":{"field":"j"},"y":{"datum":1.09135,"type":"quantitative","axis":null}}},
{"data":{"name":"green"},"mark":{"type":"line","color":"#228B22","strokeWidth":4},"encoding":{"x":{"field":"i","type":"quantitative","axis":null},"y":{"field":"p","type":"quantitative","axis":null}}},
{"data":{"name":"purple"},"mark":{"type":"line","color":"#BA55D3","strokeWidth":6},"encoding":{"x":{"field":"i","type":"quantitative","axis":null},"y":{"field":"p","type":"quantitative","axis":null}}},
{"data":{"name":"cyan"},"mark":{"type":"line","color":"#40E0D0","strokeWidth":1.5},"encoding":{"x":{"field":"i","type":"quantitative","axis":null},"y":{"field":"p","type":"quantitative","axis":null}}},
{"data":{"name":"tomato"},"mark":{"type":"line","color":"#FF6347","strokeWidth":1.6},"encoding":{"x":{"field":"i","type":"quantitative","axis":null},"y":{"field":"p","type":"quantitative","axis":null}}},
{"data":{"name":"bbU"},"mark":{"type":"line","color":"#A52A2A","strokeWidth":1.8},"encoding":{"x":{"field":"i","type":"quantitative","axis":null},"y":{"field":"p","type":"quantitative","axis":null}}},
{"data":{"name":"bbM"},"mark":{"type":"line","color":"#A52A2A","strokeWidth":1.8},"encoding":{"x":{"field":"i","type":"quantitative","axis":null},"y":{"field":"p","type":"quantitative","axis":null}}},
{"data":{"name":"bbL"},"mark":{"type":"line","color":"#A52A2A","strokeWidth":1.8},"encoding":{"x":{"field":"i","type":"quantitative","axis":null},"y":{"field":"p","type":"quantitative","axis":null}}},
{"data":{"name":"ma"},"mark":{"type":"line","color":"#7B68EE","strokeWidth":6.5},"encoding":{"x":{"field":"i","type":"quantitative","axis":null},"y":{"field":"p","type":"quantitative","axis":null}}},
{"data":{"name":"candles"},"mark":{"type":"rule","strokeWidth":2},"encoding":{"x":{"field":"i","type":"quantitative","axis":null},"y":{"field":"l","type":"quantitative","axis":null},"y2":{"field":"h"},"color":{"condition":[{"test":"datum.t=='f'","value":"#00FF00"},{"test":"datum.c>datum.o","value":"#FF0000"}],"value":"#0000FF"}}},
{"data":{"name":"candles"},"mark":{"type":"rule","strokeWidth":6},"encoding":{"x":{"field":"i","type":"quantitative","axis":null},"y":{"field":"o","type":"quantitative","axis":null},"y2":{"field":"c"},"color":{"condition":[{"test":"datum.t=='f'","value":"#00FF00"},{"test":"datum.c>datum.o","value":"#FF0000"}],"value":"#0000FF"}}},
{"data":{"values":[{"i":-0.2,"j":291.59}]},"mark":{"type":"rule","strokeWidth":3.5,"color":"#C71585"},"encoding":{"x":{"field":"i","type":"quantitative","axis":null},"x2":{"field":"j"},"y":{"datum":1.08574,"type":"quantitative","axis":null}}},
{"data":{"name":"tags"},"mark":{"type":"bar","orient":"horizontal","size":24},"encoding":{"y":{"field":"p","type":"quantitative","axis":null},"x":{"datum":292.07,"type":"quantitative","axis":null},"x2":{"datum":301.83},"color":{"condition":[{"test":"datum.p==1.09135","value":"#FF4500"},{"test":"datum.p==1.09113","value":"#000000"}],"value":"#C71585"}}},
{"data":{"name":"tags"},"mark":{"type":"text","font":"Liberation Sans","fontSize":18.5,"color":"#FFFFFF"},"encoding":{"y":{"field":"p","type":"quantitative","axis":null},"x":{"datum":297,"type":"quantitative","axis":null},"text":{"field":"t"}}},
{"data":{"name":"events"},"mark":{"type":"bar","orient":"vertical","size":164},"encoding":{"x":{"field":"i","type":"quantitative","axis":null},"y":{"datum":1.08212,"type":"quantitative","axis":null},"y2":{"datum":1.08188},"color":{"condition":{"test":"datum.i==176","value":"#DDA0DD"},"value":"#FF69B4"}}},
{"data":{"name":"events"},"mark":{"type":"text","font":"Liberation Sans","fontSize":19.5,"color":"#FFFFFF"},"encoding":{"x":{"field":"i","type":"quantitative","axis":null},"y":{"datum":1.08202,"type":"quantitative","axis":null},"text":{"field":"t"}}},
{"data":{"name":"notes"},"mark":{"type":"text","font":"Noto Sans CJK JP","fontSize":39.6,"align":"left","baseline":"alphabetic","color":"#000000"},"encoding":{"x":{"field":"i","type":"quantitative","axis":null},"y":{"field":"p","type":"quantitative","axis":null},"text":{"field":"t"}}},
{"data":{"name":"noteNarrow"},"mark":{"type":"text","font":"Noto Sans CJK JP","fontSize":35,"align":"left","baseline":"alphabetic","color":"#000000"},"encoding":{"x":{"field":"i","type":"quantitative","axis":null},"y":{"field":"p","type":"quantitative","axis":null},"text":{"field":"t"}}},
{"data":{"name":"noteWide"},"mark":{"type":"text","font":"Noto Sans CJK JP","fontSize":41,"align":"left","baseline":"alphabetic","color":"#000000"},"encoding":{"x":{"field":"i","type":"quantitative","axis":null},"y":{"field":"p","type":"quantitative","axis":null},"text":{"field":"t"}}},
{"data":{"values":[{"t":"▲ EURUSD,M15  1.09091 1.09137 1.09063 1.09113"}]},"mark":{"type":"text","font":"Liberation Sans","fontSize":19,"align":"left","color":"#000000"},"encoding":{"x":{"datum":0.63,"type":"quantitative","axis":null},"y":{"datum":1.09178,"type":"quantitative","axis":null},"text":{"field":"t"}}},
{"data":{"values":[{}]},"mark":{"type":"rect","color":"#EDE8D8"},"encoding":{"x":{"datum":11.59,"type":"quantitative","axis":null},"x2":{"datum":36.47},"y":{"datum":1.09167,"type":"quantitative","axis":null},"y2":{"datum":1.09131}}},
{"data":{"values":[{}]},"mark":{"type":"rect","color":{"gradient":"linear","x1":0,"y1":0,"x2":0,"y2":1,"stops":[{"offset":0,"color":"#4A4AFF"},{"offset":1,"color":"#2A2AE0"}]}},"encoding":{"x":{"datum":0.63,"type":"quantitative","axis":null},"x2":{"datum":11.59},"y":{"datum":1.09166,"type":"quantitative","axis":null},"y2":{"datum":1.09131}}},
{"data":{"values":[{}]},"mark":{"type":"rect","color":{"gradient":"linear","x1":0,"y1":0,"x2":0,"y2":1,"stops":[{"offset":0,"color":"#4A4AFF"},{"offset":1,"color":"#2A2AE0"}]}},"encoding":{"x":{"datum":36.47,"type":"quantitative","axis":null},"x2":{"datum":47.3},"y":{"datum":1.09166,"type":"quantitative","axis":null},"y2":{"datum":1.09131}}},
{"data":{"values":[{}]},"mark":{"type":"rect","color":{"gradient":"linear","x1":0,"y1":0,"x2":0,"y2":1,"stops":[{"offset":0,"color":"#2A2AE0"},{"offset":1,"color":"#0000A8"}]}},"encoding":{"x":{"datum":0.63,"type":"quantitative","axis":null},"x2":{"datum":23.85},"y":{"datum":1.09131,"type":"quantitative","axis":null},"y2":{"datum":1.09079}}},
{"data":{"values":[{}]},"mark":{"type":"rect","color":{"gradient":"linear","x1":0,"y1":0,"x2":0,"y2":1,"stops":[{"offset":0,"color":"#2A2AE0"},{"offset":1,"color":"#0000A8"}]}},"encoding":{"x":{"datum":24.44,"type":"quantitative","axis":null},"x2":{"datum":47.3},"y":{"datum":1.09131,"type":"quantitative","axis":null},"y2":{"datum":1.09079}}},
{"data":{"values":[{}]},"mark":{"type":"rect","color":"#FFFFFF","stroke":"#000000","strokeWidth":2},"encoding":{"x":{"datum":12.3,"type":"quantitative","axis":null},"x2":{"datum":35.75},"y":{"datum":1.09165,"type":"quantitative","axis":null},"y2":{"datum":1.09136}}},
{"data":{"values":[{}]},"mark":{"type":"rect","color":"#E4E4E4","stroke":"#000000","strokeWidth":2},"encoding":{"x":{"datum":12.3,"type":"quantitative","axis":null},"x2":{"datum":16.1},"y":{"datum":1.09165,"type":"quantitative","axis":null},"y2":{"datum":1.09136}}},
{"data":{"values":[{}]},"mark":{"type":"rect","color":"#E4E4E4","stroke":"#000000","strokeWidth":2},"encoding":{"x":{"datum":31.8,"type":"quantitative","axis":null},"x2":{"datum":35.75},"y":{"datum":1.09165,"type":"quantitative","axis":null},"y2":{"datum":1.09136}}},
{"data":{"name":"panelHead"},"mark":{"type":"text","font":"Liberation Sans","fontSize":24,"baseline":"alphabetic","color":"#FFFFFF"},"encoding":{"x":{"field":"i","type":"quantitative","axis":null},"y":{"field":"p","type":"quantitative","axis":null},"text":{"field":"t"}}},
{"data":{"name":"panelSmall"},"mark":{"type":"text","font":"Liberation Sans","fontSize":27,"fontWeight":"bold","baseline":"alphabetic","color":"#FFFFFF"},"encoding":{"x":{"field":"i","type":"quantitative","axis":null},"y":{"field":"p","type":"quantitative","axis":null},"text":{"field":"t"}}},
{"data":{"name":"panelBig"},"mark":{"type":"text","font":"Liberation Sans","fontSize":58,"baseline":"alphabetic","color":"#FFFFFF"},"encoding":{"x":{"field":"i","type":"quantitative","axis":null},"y":{"field":"p","type":"quantitative","axis":null},"text":{"field":"t"}}},
{"data":{"name":"panelSup"},"mark":{"type":"text","font":"Liberation Sans","fontSize":26,"baseline":"alphabetic","color":"#FFFFFF"},"encoding":{"x":{"field":"i","type":"quantitative","axis":null},"y":{"field":"p","type":"quantitative","axis":null},"text":{"field":"t"}}},
{"data":{"name":"panelArrow"},"mark":{"type":"text","font":"DejaVu Sans","fontSize":14,"color":"#000000"},"encoding":{"x":{"field":"i","type":"quantitative","axis":null},"y":{"field":"p","type":"quantitative","axis":null},"text":{"field":"t"}}},
{"data":{"values":[{"t":"0.10"}]},"mark":{"type":"text","font":"Liberation Sans","fontSize":24,"baseline":"alphabetic","align":"right","color":"#000000"},"encoding":{"x":{"datum":30.6,"type":"quantitative","axis":null},"y":{"datum":1.09144,"type":"quantitative","axis":null},"text":{"field":"t"}}},
{"data":{"values":[{"t":"▼"}]},"mark":{"type":"text","font":"DejaVu Sans","fontSize":18,"color":"#C8CDD0"},"encoding":{"x":{"datum":232.8,"type":"quantitative","axis":null},"y":{"datum":1.09189,"type":"quantitative","axis":null},"text":{"field":"t"}}},
{"data":{"values":[{}]},"mark":{"type":"rect","color":"#A8A8A8"},"encoding":{"x":{"datum":-1.63,"type":"quantitative","axis":null},"x2":{"datum":302.2},"y":{"datum":1.092019,"type":"quantitative","axis":null},"y2":{"datum":1.091987}}},
{"data":{"values":[{}]},"mark":{"type":"rect","color":"#A8A8A8"},"encoding":{"x":{"datum":-1.63,"type":"quantitative","axis":null},"x2":{"datum":-1.03},"y":{"datum":1.092019,"type":"quantitative","axis":null},"y2":{"datum":1.084152}}},
{"data":{"values":[{}]},"mark":{"type":"rect","color":"#2B2B2B"},"encoding":{"x":{"datum":-1.63,"type":"quantitative","axis":null},"x2":{"datum":-1.03},"y":{"datum":1.084152,"type":"quantitative","axis":null},"y2":{"datum":1.081949}}}
]}
